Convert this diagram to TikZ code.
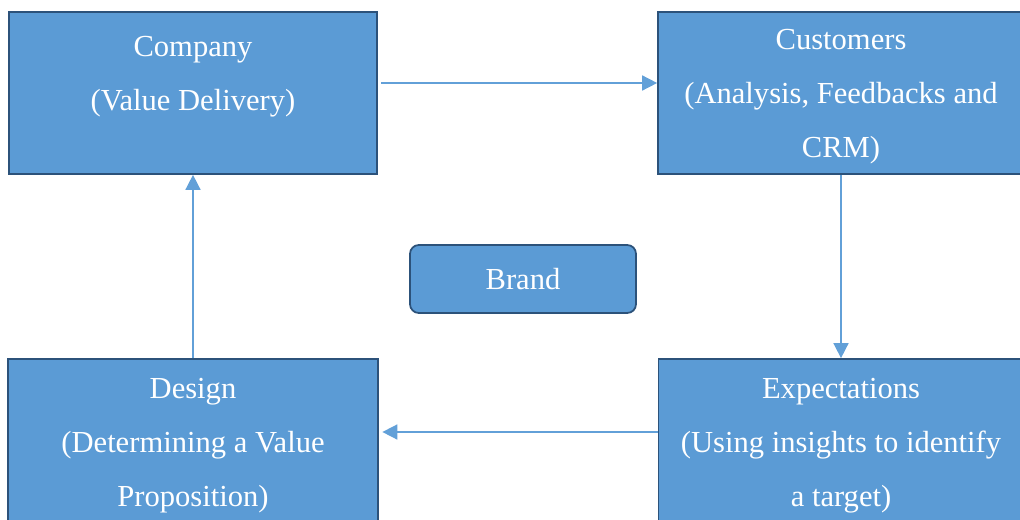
\documentclass[tikz,border=0pt]{standalone}
\usepackage{fontspec}
\setmainfont{Liberation Serif}
\usetikzlibrary{arrows.meta, positioning}
\definecolor{boxblue}{RGB}{91,155,213}
\definecolor{edgeblue}{RGB}{44,82,122}
\definecolor{arrowblue}{RGB}{98,160,216}

\begin{document}
\begin{tikzpicture}[
  x=0.02cm, y=-0.02cm,
  box/.style={rectangle, draw=edgeblue, line width=1pt, fill=boxblue,
              text=white, align=center, inner sep=0pt,
              font=\fontsize{17.4}{30.7}\selectfont},
  bigbox/.style={box, minimum width=7.36cm, minimum height=3.24cm},
  brandbox/.style={box, rounded corners=5pt, minimum width=4.52cm,
                   minimum height=1.36cm},
  arr/.style={-{Triangle[length=0.3cm, width=0.3cm]}, line width=0.9pt,
              arrowblue},
]
\useasboundingbox (0,0) rectangle (1020,520);
\clip (0,0) rectangle (1020,520);

% Boxes
\node[bigbox, text depth=0.8cm] (company) at (193,93)
  {Company\\(Value Delivery)};
\node[bigbox, minimum width=7.32cm, text depth=-0.35cm] (customers) at (841,93)
  {Customers\\(Analysis, Feedbacks and\\CRM)};
\node[brandbox] (brand) at (523,279) {Brand};
\node[bigbox, minimum width=7.4cm, minimum height=3.32cm, text depth=0pt]
  (design) at (193,442)
  {Design\\(Determining a Value\\Proposition)};
\node[bigbox, minimum width=7.3cm, minimum height=3.32cm, text depth=0pt]
  (expect) at (841,442)
  {Expectations\\(Using insights to identify\\a target)};

% Arrows
\draw[arr, shorten <=2pt] ([yshift=0.2cm]company.east) -- ([yshift=0.2cm]customers.west);
\draw[arr] (customers.south) -- (expect.north);
\draw[arr, shorten >=2pt] ([yshift=0.2cm]expect.west) -- ([yshift=0.2cm]design.east);
\draw[arr] (design.north) -- (company.south);

\end{tikzpicture}
\end{document}
